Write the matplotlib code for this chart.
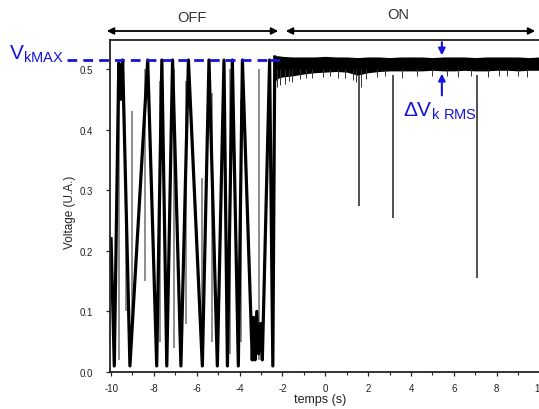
#recreates the OFF/ON voltage trace (scanned oscilloscope figure)

import matplotlib
matplotlib.use("Agg")
import matplotlib.pyplot as plt
import numpy as np
import matplotlib as mpl

mpl.rcParams['font.family'] = 'Liberation Sans'
mpl.rcParams['axes.unicode_minus'] = False

# OFF phase: turning points of the oscillation (time in s, voltage)
off_t = [-10.0, -9.85, -9.64, -9.55, -9.46, -9.12, -8.29, -7.87, -7.63, -7.40,
         -7.13, -6.74, -6.39, -5.74, -5.43, -5.04, -4.73, -4.57, -4.34, -4.06,
         -3.87, -3.41, -3.35, -3.28, -3.20, -3.12, -3.02, -2.94, -2.60, -2.45, -2.36]
off_v = [0.22, 0.01, 0.51, 0.45, 0.515, 0.01, 0.515, 0.01, 0.515, 0.01,
         0.515, 0.01, 0.515, 0.01, 0.515, 0.01, 0.515, 0.01, 0.515, 0.01,
         0.515, 0.02, 0.09, 0.02, 0.10, 0.03, 0.08, 0.02, 0.515, 0.01, 0.52]

# thin grey partial swings in the OFF phase (time, low, high)
spike_t = [-9.64, -9.30, -9.02, -8.40, -7.70, -7.07, -6.50, -5.74, -5.30, -4.45, -3.95, -3.10]
spike_lo = [0.02, 0.10, 0.05, 0.15, 0.05, 0.04, 0.08, 0.02, 0.05, 0.03, 0.05, 0.02]
spike_hi = [0.50, 0.30, 0.43, 0.50, 0.48, 0.50, 0.48, 0.32, 0.46, 0.50, 0.45, 0.50]

# ON phase: envelope of the noise band
on_t = [-2.36, -2.2, -2.0, -1.5, -1.0, -0.5, 0.0, 0.5, 1.0, 1.5, 2.0, 2.5, 3.0, 3.5,
        4.0, 4.5, 5.0, 5.5, 6.0, 6.5, 7.0, 7.5, 8.0, 8.5, 9.0, 9.5, 10.0, 10.5, 11.0]
on_hi = [0.522, 0.522, 0.521, 0.520, 0.520, 0.520, 0.521, 0.520, 0.520, 0.519, 0.520,
         0.520, 0.519, 0.520, 0.520, 0.520, 0.519, 0.520, 0.520, 0.520, 0.519, 0.520,
         0.520, 0.520, 0.520, 0.519, 0.520, 0.520, 0.520]
on_lo = [0.480, 0.485, 0.487, 0.489, 0.492, 0.494, 0.495, 0.496, 0.495, 0.490, 0.494,
         0.496, 0.497, 0.497, 0.497, 0.497, 0.498, 0.497, 0.497, 0.498, 0.497, 0.497,
         0.498, 0.498, 0.497, 0.498, 0.498, 0.498, 0.498]

# short noise whiskers below the band (time, low)
whisk_t = [-2.25, -2.1, -1.9, -1.7, -1.55, -1.2, -0.9, -0.6, -0.1, 0.2, 0.6, 0.9, 1.3, 1.45,
           1.65, 1.9, 2.4, 2.8, 3.6, 4.3, 5.0, 5.7, 6.2, 6.8, 7.6, 8.1, 8.5, 9.0, 9.4, 10.2, 10.7]
whisk_lo = [0.470, 0.474, 0.476, 0.480, 0.478, 0.483, 0.485, 0.485, 0.487, 0.488, 0.486,
            0.485, 0.482, 0.478, 0.470, 0.484, 0.487, 0.488, 0.485, 0.488, 0.488, 0.489,
            0.487, 0.488, 0.487, 0.489, 0.488, 0.489, 0.487, 0.488, 0.489]

# deep dropouts during the ON phase (time, lowest voltage)
dip_t = [1.58, 3.15, 7.10]
dip_v = [0.274, 0.255, 0.155]

v_kmax = 0.515
rms_t = 5.44

blue = '#1414dc'
ink = '#222222'

fig = plt.figure(figsize=(5.39, 4.10), dpi=100)
ax = fig.add_axes([110 / 539, 37 / 410, 451 / 539, 332 / 410])

ax.vlines(spike_t, spike_lo, spike_hi, color='#7a7a7a', lw=1.2)
ax.plot(off_t, off_v, color='black', lw=2.3)

ax.fill_between(on_t, on_lo, on_hi, color='black', lw=0)
ax.vlines(whisk_t, whisk_lo, 0.50, color='#333333', lw=0.7)
ax.vlines(dip_t, dip_v, 0.49, color='#333333', lw=1.2)

ax.set_xlim(-10.05, 11)
ax.set_ylim(0, 0.548)
ax.set_xticks(np.arange(-10, 11, 2))
ax.set_xticks(np.arange(-9, 11, 2), minor=True)
ax.set_yticks([0.0, 0.1, 0.2, 0.3, 0.4, 0.5])
ax.set_yticklabels(['0.0', '0.1', '0.2', '0.3', '0.4', '0.5'])
ax.tick_params(axis='y', direction='out', length=3, width=0.9, labelsize=7, colors=ink, pad=9)
ax.tick_params(axis='x', direction='out', length=3, width=0.9, labelsize=7, colors=ink, pad=5)
ax.tick_params(which='minor', direction='out', length=2, width=0.8, colors=ink)
for s in ['left', 'top', 'bottom']:
    ax.spines[s].set_linewidth(1.3)
    ax.spines[s].set_color(ink)
ax.spines['right'].set_visible(False)

fig.text(70 / 539, 1 - 212 / 410, 'Voltage (U.A.)', rotation=90, ha='center', va='center',
         fontsize=8.5, color=ink)
fig.text(320 / 539, 1 - 400 / 410, 'temps (s)', ha='center', va='center', fontsize=9, color=ink)

# V_kMAX dashed level
ax.plot([-12.05, -2.45], [v_kmax, v_kmax], color=blue, lw=2, dashes=(3.5, 2.2), clip_on=False)
ax.plot([-2.55, -2.2], [v_kmax, v_kmax], color=blue, lw=2, clip_on=False)
fig.text(64 / 539, 1 - 54 / 410, r'$\mathregular{V_{kMAX}}$', color=blue, fontsize=15,
         ha='right', va='center')

# delta V rms arrows
ax.annotate('', xy=(rms_t, 0.518), xytext=(rms_t, 0.549), annotation_clip=False,
            arrowprops=dict(arrowstyle='-|>', color=blue, lw=1.5, mutation_scale=10))
ax.annotate('', xy=(rms_t, 0.497), xytext=(rms_t, 0.452), annotation_clip=False,
            arrowprops=dict(arrowstyle='-|>', color=blue, lw=1.5, mutation_scale=10))
fig.text(440 / 539, 1 - 111 / 410, r'$\mathregular{\Delta V_{k\ RMS}}$', color=blue,
         fontsize=15, ha='center', va='center')

# OFF / ON arrows above the frame
y_arr = 1 - 32 / 410
fig.patches.append(mpl.patches.FancyArrowPatch((104 / 539, y_arr), (281 / 539, y_arr),
                   transform=fig.transFigure, arrowstyle='<|-|>', mutation_scale=10,
                   color='black', lw=1.3))
fig.patches.append(mpl.patches.FancyArrowPatch((283 / 539, y_arr), (538 / 539, y_arr),
                   transform=fig.transFigure, arrowstyle='<|-|>', mutation_scale=10,
                   color='black', lw=1.3))
fig.text(192 / 539, 1 - 18 / 410, 'OFF', ha='center', va='center', fontsize=10.5, color='#333333')
fig.text(398 / 539, 1 - 15 / 410, 'ON', ha='center', va='center', fontsize=10.5, color='#333333')

fig.savefig('out.png', dpi=100)
